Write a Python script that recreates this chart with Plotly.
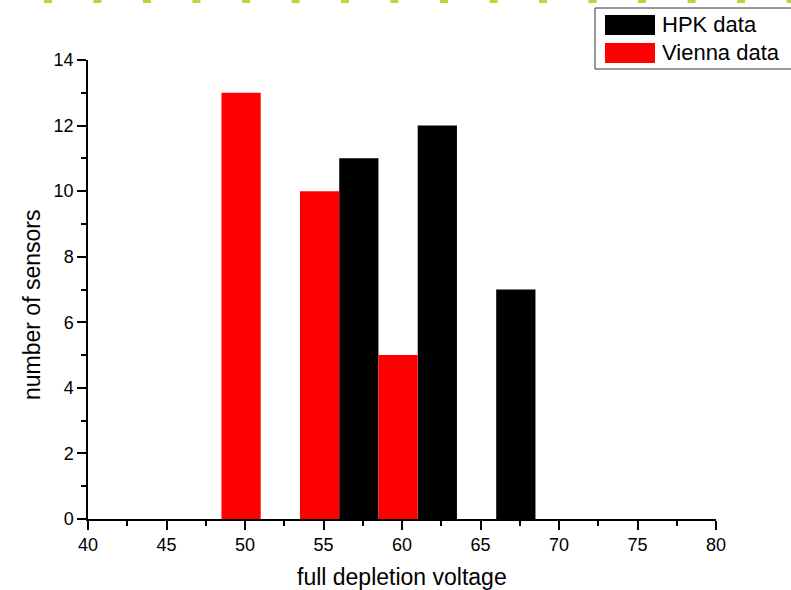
import plotly.graph_objects as go

# ---- data ----
bin_centers = [51, 56, 61, 66]          # full depletion voltage bins (width 5)
vienna_counts = [13, 10, 5, 0]
hpk_counts = [0, 11, 12, 7]
series_names = ["HPK data", "Vienna data"]
series_colors = ["#000000", "#ff0000"]
x_tick_vals = [40, 45, 50, 55, 60, 65, 70, 75, 80]
y_tick_vals = [0, 2, 4, 6, 8, 10, 12, 14]
x_title = "full depletion voltage"
y_title = "number of sensors"

FONT = "Liberation Sans, Arial, sans-serif"
W, H = 791, 590
ML, MR, MT, MB = 88, 75, 60, 71
pw, ph = W - ML - MR, H - MT - MB

def px_x(p):
    return (p - ML) / pw

def px_y(p):
    return 1 - (p - MT) / ph

fig = go.Figure()
fig.add_trace(go.Bar(x=bin_centers, y=hpk_counts, name=series_names[0],
                     width=2.5, offset=0,
                     marker=dict(color=series_colors[0], line=dict(width=0)),
                     showlegend=False))
fig.add_trace(go.Bar(x=bin_centers, y=vienna_counts, name=series_names[1],
                     width=2.5, offset=-2.5,
                     marker=dict(color=series_colors[1], line=dict(width=0)),
                     showlegend=False))

axis_common = dict(showline=True, linecolor="black", linewidth=1.5, ticks="outside",
                   tickcolor="black", tickwidth=1.5, ticklen=9, showgrid=False,
                   zeroline=False, tickfont=dict(family=FONT, size=18, color="black"))

fig.update_xaxes(range=[40, 80], tickvals=x_tick_vals,
                 minor=dict(dtick=2.5, ticks="outside", ticklen=5, tickwidth=1.5, tickcolor="black", tick0=40),
                 **axis_common)
fig.update_yaxes(range=[0, 14], tickvals=y_tick_vals,
                 minor=dict(dtick=1, ticks="outside", ticklen=5, tickwidth=1.5, tickcolor="black", tick0=0),
                 **axis_common)

shapes = []
annotations = []

# axis titles
annotations.append(dict(text=x_title, xref="paper", yref="paper", x=px_x(402), y=px_y(577),
                        showarrow=False, font=dict(family=FONT, size=23, color="black"),
                        xanchor="center", yanchor="middle"))
annotations.append(dict(text=y_title, xref="paper", yref="paper", x=px_x(32), y=px_y(305),
                        showarrow=False, textangle=-90, font=dict(family=FONT, size=23, color="black"),
                        xanchor="center", yanchor="middle"))

# legend box (drawn manually to match the large swatches)
shapes.append(dict(type="rect", xref="paper", yref="paper",
                   x0=px_x(595), x1=px_x(800), y0=px_y(69), y1=px_y(8),
                   line=dict(color="#333333", width=1), fillcolor="white"))
swatch_rows = [(15, 35), (43, 63)]
for (t, b), name, col in zip(swatch_rows, series_names, series_colors):
    shapes.append(dict(type="rect", xref="paper", yref="paper",
                       x0=px_x(605), x1=px_x(655), y0=px_y(b), y1=px_y(t),
                       line=dict(width=0), fillcolor=col))
    annotations.append(dict(text=name, xref="paper", yref="paper", x=px_x(660), y=px_y((t + b) / 2),
                            showarrow=False, xanchor="left", yanchor="middle",
                            font=dict(family=FONT, size=22, color="black")))

# decorative dotted green border at very top
shapes.append(dict(type="line", xref="paper", yref="paper",
                   x0=px_x(44), x1=px_x(800), y0=px_y(0), y1=px_y(0),
                   line=dict(color="#bcd63a", width=6, dash="8px,41.5px")))

fig.update_layout(width=W, height=H, margin=dict(l=ML, r=MR, t=MT, b=MB),
                  paper_bgcolor="white", plot_bgcolor="white",
                  barmode="overlay", showlegend=False,
                  shapes=shapes, annotations=annotations,
                  font=dict(family=FONT, color="black"))

fig.write_html("out.html", config={"displayModeBar": False},
               post_script="document.body.style.margin='0';document.body.style.overflow='hidden';")
